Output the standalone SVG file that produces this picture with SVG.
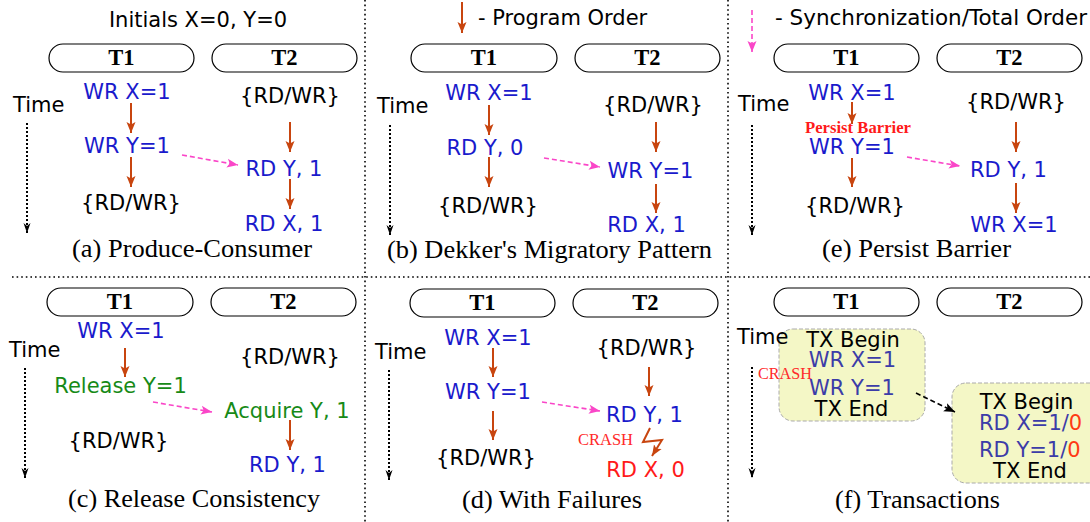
<svg xmlns="http://www.w3.org/2000/svg" width="1090" height="522" viewBox="0 0 1090 522">
<defs>
<style>
.s{font-family:"DejaVu Sans",Verdana,sans-serif;font-size:21px}
.m{text-anchor:middle}
.k{fill:#000}
.b{fill:#1a1acc}
.g{fill:#178a17}
.r{fill:#ff1a1a}
.sb{fill:#3c3ca8}
.cap{font-family:"Liberation Serif","Times New Roman",serif;font-size:25px;text-anchor:middle;fill:#000}
.th{font-family:"Liberation Serif","Times New Roman",serif;font-size:22.5px;font-weight:bold;text-anchor:middle;fill:#000}
.pill{fill:#fff;stroke:#000;stroke-width:1.2}
.po{stroke:#c8450f;stroke-width:2;fill:none;marker-end:url(#ao)}
.sy{stroke:#fa46c8;stroke-width:1.6;stroke-dasharray:5 3;fill:none;marker-end:url(#ap)}
.tm{stroke:#000;stroke-width:2;stroke-dasharray:2 2;fill:none;marker-end:url(#at)}
.div{stroke:#000;stroke-width:1.6;stroke-dasharray:1.6 3;fill:none}
.box{fill:#f4f7c6;stroke:#aaa;stroke-width:1;stroke-dasharray:4 2}
.crash{font-family:"Liberation Serif","Times New Roman",serif;font-size:17.5px;fill:#ff2a2a}
</style>
<marker id="ao" markerUnits="userSpaceOnUse" markerWidth="14" markerHeight="12" refX="11" refY="0" viewBox="0 -6 14 12" orient="auto"><path d="M0,-4.5 L11,0 L0,4.5 L2.5,0 z" fill="#c8450f"/></marker>
<marker id="ap" markerUnits="userSpaceOnUse" markerWidth="14" markerHeight="12" refX="11" refY="0" viewBox="0 -6 14 12" orient="auto"><path d="M0,-4.5 L11,0 L0,4.5 L2.5,0 z" fill="#fa46c8"/></marker>
<marker id="at" markerUnits="userSpaceOnUse" markerWidth="14" markerHeight="12" refX="10" refY="0" viewBox="0 -6 14 12" orient="auto"><path d="M0,-3.5 L10,0 L0,3.5 L3,0 z" fill="#000"/></marker>
<marker id="ak" markerUnits="userSpaceOnUse" markerWidth="14" markerHeight="12" refX="11" refY="0" viewBox="0 -6 14 12" orient="auto"><path d="M0,-4.5 L11,0 L0,4.5 L2.5,0 z" fill="#000"/></marker>
</defs>

<g id="dividers">
<line class="div" x1="365" y1="0" x2="365" y2="522"/>
<line class="div" x1="728" y1="0" x2="728" y2="522"/>
<line class="div" x1="12" y1="277" x2="1090" y2="277"/>
</g>

<!-- Panel (a) -->
<g id="panel-a">
<text class="s m k" x="198" y="27">Initials X=0, Y=0</text>
<g id="a-T1"><rect class="pill" x="49" y="44" width="145" height="28" rx="14"/><text class="th" x="121.5" y="65">T1</text></g>
<g id="a-T2"><rect class="pill" x="212" y="44" width="145" height="28" rx="14"/><text class="th" x="284.5" y="65">T2</text></g>
<text class="s k" x="13" y="112">Time</text>
<g id="a-n1"><text class="s m b" x="127" y="99">WR X=1</text></g>
<g id="a-n2"><text class="s m b" x="127" y="153">WR Y=1</text></g>
<g id="a-n3"><text class="s m k" x="131" y="210">{RD/WR}</text></g>
<g id="a-n4"><text class="s m k" x="290" y="103">{RD/WR}</text></g>
<g id="a-n5"><text class="s m b" x="284" y="176">RD Y, 1</text></g>
<g id="a-n6"><text class="s m b" x="284" y="231">RD X, 1</text></g>
<text class="cap" x="192" y="257" textLength="240" lengthAdjust="spacingAndGlyphs">(a) Produce-Consumer</text>
</g>

<!-- Panel (b) -->
<g id="panel-b">
<text class="s k" x="478" y="25">- Program Order</text>
<g id="b-T1"><rect class="pill" x="411" y="44" width="146" height="28" rx="14"/><text class="th" x="484" y="65">T1</text></g>
<g id="b-T2"><rect class="pill" x="575" y="44" width="145" height="28" rx="14"/><text class="th" x="647.5" y="65">T2</text></g>
<text class="s k" x="377" y="113">Time</text>
<g id="b-n1"><text class="s m b" x="489" y="100">WR X=1</text></g>
<g id="b-n2"><text class="s m b" x="485" y="155">RD Y, 0</text></g>
<g id="b-n3"><text class="s m k" x="488" y="213">{RD/WR}</text></g>
<g id="b-n4"><text class="s m k" x="653" y="112">{RD/WR}</text></g>
<g id="b-n5"><text class="s m b" x="650.5" y="178">WR Y=1</text></g>
<g id="b-n6"><text class="s m b" x="646.5" y="232">RD X, 1</text></g>
<text class="cap" x="549.5" y="258" textLength="325" lengthAdjust="spacingAndGlyphs">(b) Dekker's Migratory Pattern</text>
</g>

<!-- Panel (e) -->
<g id="panel-e">
<text class="s k" x="775" y="25" textLength="312" lengthAdjust="spacingAndGlyphs">- Synchronization/Total Order</text>
<g id="e-T1"><rect class="pill" x="774" y="44" width="145" height="28" rx="14"/><text class="th" x="846.5" y="65">T1</text></g>
<g id="e-T2"><rect class="pill" x="937" y="44" width="145" height="28" rx="14"/><text class="th" x="1009.5" y="65">T2</text></g>
<text class="s k" x="738" y="111">Time</text>
<g id="e-n1"><text class="s m b" x="852" y="100">WR X=1</text></g>
<text x="858" y="133" text-anchor="middle" font-family="Liberation Serif, Times New Roman, serif" font-size="17" font-weight="bold" fill="#ff1a1a" textLength="106" lengthAdjust="spacingAndGlyphs">Persist Barrier</text>
<g id="e-n2"><text class="s m b" x="852" y="154">WR Y=1</text></g>
<g id="e-n3"><text class="s m k" x="855" y="213">{RD/WR}</text></g>
<g id="e-n4"><text class="s m k" x="1016" y="109">{RD/WR}</text></g>
<g id="e-n5"><text class="s m b" x="1008.5" y="177">RD Y, 1</text></g>
<g id="e-n6"><text class="s m b" x="1014" y="232">WR X=1</text></g>
<text class="cap" x="916.5" y="257" textLength="189" lengthAdjust="spacingAndGlyphs">(e) Persist Barrier</text>
</g>

<!-- Panel (c) -->
<g id="panel-c">
<g id="c-T1"><rect class="pill" x="47" y="288" width="146" height="28" rx="14"/><text class="th" x="120" y="309">T1</text></g>
<g id="c-T2"><rect class="pill" x="211" y="288" width="145" height="28" rx="14"/><text class="th" x="283.5" y="309">T2</text></g>
<text class="s k" x="9" y="357">Time</text>
<g id="c-n1"><text class="s m b" x="121" y="338">WR X=1</text></g>
<g id="c-n2"><text class="s m g" x="120.5" y="393">Release Y=1</text></g>
<g id="c-n3"><text class="s m k" x="118.5" y="448">{RD/WR}</text></g>
<g id="c-n4"><text class="s m k" x="290" y="364">{RD/WR}</text></g>
<g id="c-n5"><text class="s m g" x="287" y="418">Acquire Y, 1</text></g>
<g id="c-n6"><text class="s m b" x="287.5" y="472">RD Y, 1</text></g>
<text class="cap" x="194" y="507" textLength="252" lengthAdjust="spacingAndGlyphs">(c) Release Consistency</text>
</g>

<!-- Panel (d) -->
<g id="panel-d">
<g id="d-T1"><rect class="pill" x="410" y="289" width="145" height="28" rx="14"/><text class="th" x="482.5" y="310">T1</text></g>
<g id="d-T2"><rect class="pill" x="573" y="289" width="145" height="28" rx="14"/><text class="th" x="645.5" y="310">T2</text></g>
<text class="s k" x="375" y="359">Time</text>
<g id="d-n1"><text class="s m b" x="488" y="345">WR X=1</text></g>
<g id="d-n2"><text class="s m b" x="488" y="399">WR Y=1</text></g>
<g id="d-n3"><text class="s m k" x="486" y="465">{RD/WR}</text></g>
<g id="d-n4"><text class="s m k" x="646.5" y="355">{RD/WR}</text></g>
<g id="d-n5"><text class="s m b" x="644.5" y="422">RD Y, 1</text></g>
<text class="crash" x="578" y="445" textLength="55" lengthAdjust="spacingAndGlyphs">CRASH</text>
<g id="d-n6"><text class="s m r" x="645.5" y="477">RD X, 0</text></g>
<text class="cap" x="552" y="508" textLength="180" lengthAdjust="spacingAndGlyphs">(d) With Failures</text>
</g>

<!-- Panel (f) -->
<g id="panel-f">
<g id="f-T1"><rect class="pill" x="774" y="288" width="145" height="28" rx="14"/><text class="th" x="846.5" y="309">T1</text></g>
<g id="f-T2"><rect class="pill" x="937" y="288" width="145" height="28" rx="14"/><text class="th" x="1009.5" y="309">T2</text></g>
<g id="f-tx1">
<rect class="box" x="779" y="329" width="146" height="92" rx="14"/>
<text class="s m k" x="853" y="347">TX Begin</text>
<text class="s m sb" x="852.5" y="367">WR X=1</text>
<text class="s m sb" x="852" y="395">WR Y=1</text>
<text class="s m k" x="851.5" y="416">TX End</text>
</g>
<text class="s k" x="737" y="344">Time</text>
<text class="crash" x="758" y="379" textLength="54" lengthAdjust="spacingAndGlyphs">CRASH</text>
<g id="f-tx2">
<rect class="box" x="952" y="383" width="152" height="100" rx="14"/>
<text class="s m k" x="1026.5" y="409">TX Begin</text>
<text class="s sb" x="979" y="430">RD X=1/<tspan fill="#ff3a14">0</tspan></text>
<text class="s sb" x="979" y="457">RD Y=1/<tspan fill="#ff3a14">0</tspan></text>
<text class="s m k" x="1030" y="478">TX End</text>
</g>
<text class="cap" x="917.5" y="508" textLength="165" lengthAdjust="spacingAndGlyphs">(f) Transactions</text>
</g>

<g id="connectors">
<!-- legends -->
<line class="po" x1="462" y1="2" x2="462" y2="33"/>
<line class="sy" x1="752" y1="10" x2="752" y2="52"/>
<!-- time arrows -->
<line class="tm" x1="27" y1="123" x2="27" y2="233"/>
<line class="tm" x1="390" y1="125" x2="390" y2="235"/>
<line class="tm" x1="752" y1="125" x2="752" y2="235"/>
<line class="tm" x1="25" y1="368" x2="25" y2="478"/>
<line class="tm" x1="389" y1="370" x2="389" y2="480"/>
<line class="tm" x1="752" y1="367" x2="752" y2="478"/>
<!-- (a) -->
<line class="po" x1="131" y1="103" x2="131" y2="133"/>
<line class="po" x1="131" y1="157" x2="131" y2="187"/>
<line class="po" x1="290" y1="122" x2="290" y2="152"/>
<line class="po" x1="290" y1="179" x2="290" y2="209"/>
<line class="sy" x1="182" y1="155" x2="238" y2="165"/>
<!-- (b) -->
<line class="po" x1="489" y1="105" x2="489" y2="135"/>
<line class="po" x1="489" y1="157" x2="489" y2="187"/>
<line class="po" x1="656" y1="122" x2="656" y2="152"/>
<line class="po" x1="656" y1="184" x2="656" y2="213"/>
<line class="sy" x1="544" y1="158" x2="600" y2="167"/>
<!-- (e) -->
<line class="po" x1="852" y1="102" x2="852" y2="124"/>
<line class="po" x1="852" y1="158" x2="852" y2="187"/>
<line class="po" x1="1016" y1="122" x2="1016" y2="152"/>
<line class="po" x1="1016" y1="183" x2="1016" y2="213"/>
<line class="sy" x1="907" y1="157" x2="960" y2="166"/>
<!-- (c) -->
<line class="po" x1="125" y1="348" x2="125" y2="377"/>
<line class="po" x1="290" y1="420" x2="290" y2="450"/>
<line class="sy" x1="153" y1="402" x2="212" y2="412"/>
<!-- (d) -->
<line class="po" x1="493" y1="348" x2="493" y2="377"/>
<line class="po" x1="493" y1="411" x2="493" y2="440"/>
<line class="po" x1="649" y1="367" x2="649" y2="396"/>
<line class="sy" x1="542" y1="402" x2="600" y2="411"/>
<polyline class="po" points="650,428 643,442 662,440 652,456"/>
<!-- (f) -->
<line x1="916" y1="393" x2="955" y2="412" stroke="#000" stroke-width="1.6" stroke-dasharray="5 3" marker-end="url(#ak)"/>
</g>
</svg>
